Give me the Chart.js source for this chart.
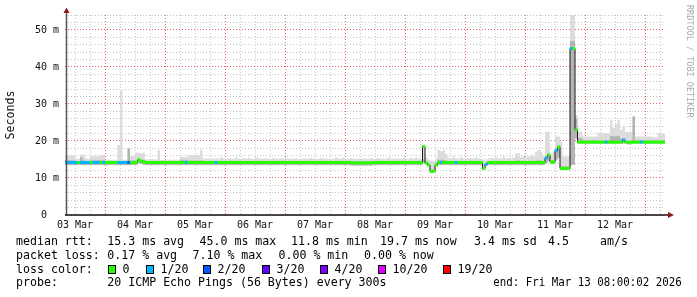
<!DOCTYPE html>
<html>
<head>
<meta charset="utf-8">
<script src="https://cdn.jsdelivr.net/npm/chart.js@4.4.1/dist/chart.umd.min.js"></script>
<style>
  html, body { margin: 0; padding: 0; background: #fff; }
  #wrap { width: 697px; height: 297px; }
</style>
</head>
<body>
<div id="wrap"><canvas id="pingChart" width="697" height="297"></canvas></div>
<script>
// hourly samples, first one is 03 Mar 08:00, one row per day (24 h)
// median round trip time in ms
const medianRtt = [
  14.2,14.2,14.2,14.2,14.2,14.2,14.2,14.2,14.2,14.2,14.2,14.2,14.2,14.2,14.2,14.2,14.2,14.2,14.2,14.2,14.2,14.2,14.2,14.2,
  14.2,14.2,14.2,14.2,14.2,14.9,14.6,14.4,14.2,14.2,14.2,14.2,14.2,14.2,14.2,14.2,14.2,14.2,14.2,14.2,14.2,14.2,14.2,14.2,
  14.2,14.2,14.2,14.2,14.2,14.2,14.2,14.2,14.2,14.2,14.2,14.2,14.2,14.2,14.2,14.2,14.2,14.2,14.2,14.2,14.2,14.2,14.2,14.2,
  14.2,14.2,14.2,14.2,14.2,14.2,14.2,14.2,14.2,14.2,14.2,14.2,14.2,14.2,14.2,14.2,14.2,14.2,14.2,14.2,14.2,14.2,14.2,14.2,
  14.2,14.2,14.2,14.2,14.2,14.2,14.2,14.2,14.2,14.2,14.2,14.2,14.2,14.2,14.2,14.2,14.2,14.2,14.1,14.1,14.1,14.1,14.1,14.1,
  14.1,14.1,14.1,14.2,14.2,14.2,14.2,14.2,14.2,14.2,14.2,14.2,14.2,14.2,14.2,14.2,14.2,14.2,14.2,14.2,14.2,14.2,14.2,18.5,
  14.0,13.5,11.8,11.8,13.5,14.2,14.2,14.2,14.2,14.2,14.2,14.2,14.2,14.2,14.2,14.2,14.2,14.2,14.2,14.2,14.2,14.2,14.2,12.6,
  13.7,14.2,14.2,14.2,14.2,14.2,14.2,14.2,14.2,14.2,14.2,14.2,14.2,14.2,14.2,14.2,14.2,14.2,14.2,14.2,14.2,14.2,14.2,14.2,
  15.4,16.2,14.3,14.3,17.4,18.4,12.6,12.6,12.6,12.6,45.0,45.0,23.0,19.7,19.7,19.7,19.7,19.7,19.7,19.7,19.7,19.7,19.7,19.7,
  19.7,19.7,19.7,19.7,19.7,19.7,19.7,20.3,19.7,19.5,19.7,19.7,19.7,19.7,19.7,19.7,19.7,19.7,19.7,19.7,19.7,19.7,19.7,19.7
];

// lost pings out of 20
const lostPings = [
  1,1,1,1,1,0,1,1,1,1,0,1,1,1,0,1,0,0,0,0,0,1,1,1,
  1,2,0,0,0,0,0,0,0,0,0,0,0,0,0,0,0,0,0,0,0,0,0,0,
  1,0,0,0,0,0,0,0,0,0,0,0,1,0,0,0,0,0,0,0,0,0,0,0,
  0,0,0,0,0,0,0,0,0,0,0,0,0,0,0,0,0,0,0,0,0,0,0,0,
  0,0,0,0,0,0,0,0,0,0,0,0,0,0,0,0,0,0,0,0,0,0,0,0,
  0,0,0,0,0,0,0,0,0,0,0,0,0,0,0,0,0,0,0,0,0,0,0,0,
  0,0,0,0,0,0,1,0,0,0,0,0,1,0,0,0,0,0,0,0,0,0,0,0,
  1,0,0,0,0,0,0,0,0,0,0,0,0,0,0,0,0,0,0,0,0,0,0,0,
  1,0,0,0,1,0,0,0,0,0,1,0,0,0,0,0,0,0,0,0,0,0,0,0,
  1,0,0,0,0,0,0,1,0,0,0,0,0,0,1,0,0,0,0,0,0,0,0,0
];

// slowest ping of the hour (top of the smoke), ms
const smokeHigh = [
  16.2,16.2,16.0,16.2,15.3,15.3,16.3,16.3,15.3,15.3,15.9,15.9,15.9,15.9,16.2,16.2,14.9,14.9,14.9,14.9,14.9,18.9,33.6,14.9,
  14.9,18.2,15.9,15.9,16.8,16.8,16.6,16.8,15.1,15.1,15.1,15.1,15.1,17.6,14.9,14.9,14.9,14.9,14.9,14.9,14.9,14.9,15.7,15.7,
  15.7,16.2,16.2,16.2,16.2,16.2,17.6,15.3,15.3,15.3,15.3,15.3,15.3,15.2,15.6,15.2,15.2,15.5,15.2,15.2,15.6,15.2,15.2,15.4,
  15.2,15.5,15.2,15.2,15.6,15.3,15.2,15.2,15.4,15.2,15.2,15.5,15.2,15.2,15.3,15.2,15.6,15.2,15.2,15.2,15.4,15.2,15.2,15.3,
  15.2,15.2,15.4,15.2,15.2,15.2,15.5,15.2,15.3,15.2,15.2,15.2,15.6,15.2,15.2,15.5,15.2,15.2,15.4,15.2,15.2,15.2,15.3,15.2,
  15.2,15.2,15.5,15.2,15.2,15.4,15.2,15.2,15.2,15.6,15.2,15.2,15.3,15.2,15.2,15.5,15.2,15.2,15.4,15.2,15.6,15.2,15.3,18.8,
  15.6,15.0,14.5,14.5,15.3,17.6,17.2,17.6,16.5,15.5,15.3,15.8,15.3,15.3,15.6,15.3,15.3,15.5,15.3,15.3,15.6,15.3,15.3,15.0,
  15.0,15.3,15.5,15.3,15.6,15.3,15.3,15.8,15.3,15.5,15.3,15.6,16.7,16.7,15.6,16.0,15.6,15.8,16.2,15.8,17.1,17.6,17.1,16.0,
  22.5,22.5,16.5,17.0,21.2,21.2,19.8,15.8,15.8,15.8,58.0,58.0,27.0,22.5,22.5,21.2,21.2,21.2,21.2,21.2,21.2,22.1,22.1,22.1,
  22.1,22.1,25.7,23.5,24.6,25.7,23.0,24.0,22.5,22.5,22.5,26.6,21.2,21.2,21.2,21.2,21.2,21.2,21.2,21.0,21.0,22.0,22.0,22.0
];

// upper edge of the dense part of the smoke, ms
const smokeDense = [
  14.8,14.8,14.8,14.8,14.6,14.6,15.6,14.8,14.6,14.6,14.8,14.8,14.8,14.8,14.8,14.8,14.5,14.5,14.5,14.5,14.5,14.6,14.6,14.5,
  14.5,18.0,14.7,14.7,14.7,15.2,14.9,14.7,14.5,14.5,14.5,14.5,14.5,14.5,14.5,14.5,14.5,14.5,14.5,14.5,14.5,14.5,14.9,14.9,
  14.9,14.7,14.7,14.7,14.7,14.7,14.7,14.5,14.5,14.5,14.5,14.5,14.5,14.5,14.5,14.5,14.5,14.5,14.5,14.5,14.5,14.5,14.5,14.5,
  14.5,14.5,14.5,14.5,14.5,14.5,14.5,14.5,14.5,14.5,14.5,14.5,14.5,14.5,14.5,14.5,14.5,14.5,14.5,14.5,14.5,14.5,14.5,14.5,
  14.5,14.5,14.5,14.5,14.5,14.5,14.5,14.5,14.5,14.5,14.5,14.5,14.5,14.5,14.5,14.5,14.5,14.5,14.4,14.4,14.4,14.4,14.4,14.4,
  14.4,14.4,14.4,14.5,14.5,14.5,14.5,14.5,14.5,14.5,14.5,14.5,14.5,14.5,14.5,14.5,14.5,14.5,14.5,14.5,14.5,14.5,14.5,15.0,
  14.5,14.0,12.3,12.3,14.0,14.9,14.9,14.9,14.7,14.5,14.5,14.5,14.5,14.5,14.5,14.5,14.5,14.5,14.5,14.5,14.5,14.5,14.5,13.0,
  14.1,14.5,14.5,14.5,14.5,14.5,14.5,14.5,14.5,14.5,14.5,14.5,14.7,14.7,14.5,14.5,14.5,14.5,14.5,14.5,14.7,14.7,14.7,14.5,
  15.8,16.6,14.7,14.7,17.7,18.7,13.1,13.1,13.1,13.1,47.0,47.0,26.0,20.8,20.8,20.1,20.1,20.1,20.1,20.1,20.1,20.1,20.1,20.1,
  20.1,20.1,21.3,21.3,21.3,21.3,20.6,20.6,20.1,20.1,20.1,26.6,20.1,20.1,20.1,20.1,20.1,20.1,20.1,20.1,20.1,20.1,20.1,20.1
];

// fastest ping of the hour (bottom of the smoke), ms
const smokeLow = [
  13.5,13.5,13.5,13.5,13.5,13.5,13.5,13.5,13.5,13.5,13.5,13.5,13.5,13.5,13.5,13.5,13.5,13.5,13.5,13.5,13.5,13.5,13.5,13.5,
  13.5,13.5,13.5,13.5,13.5,13.9,13.8,13.6,13.5,13.5,13.5,13.5,13.5,13.5,13.5,13.5,13.5,13.5,13.5,13.5,13.5,13.5,13.5,13.5,
  13.5,13.5,13.5,13.5,13.5,13.5,13.5,13.5,13.5,13.5,13.5,13.5,13.5,13.5,13.5,13.5,13.5,13.5,13.5,13.5,13.5,13.5,13.5,13.5,
  13.5,13.5,13.5,13.5,13.5,13.5,13.5,13.5,13.5,13.5,13.5,13.5,13.5,13.5,13.5,13.5,13.5,13.5,13.5,13.5,13.5,13.5,13.5,13.5,
  13.5,13.5,13.5,13.5,13.5,13.5,13.5,13.5,13.5,13.5,13.5,13.5,13.5,13.5,13.5,13.5,13.5,13.5,13.4,13.4,13.4,13.4,13.4,13.4,
  13.4,13.4,13.4,13.5,13.5,13.5,13.5,13.5,13.5,13.5,13.5,13.5,13.5,13.5,13.5,13.5,13.5,13.5,13.5,13.5,13.5,13.5,13.5,14.0,
  13.7,13.2,11.5,11.5,13.2,13.5,13.5,13.5,13.5,13.5,13.5,13.5,13.5,13.5,13.5,13.5,13.5,13.5,13.5,13.5,13.5,13.5,13.5,12.3,
  13.4,13.5,13.5,13.5,13.5,13.5,13.5,13.5,13.5,13.5,13.5,13.5,13.5,13.5,13.5,13.5,13.5,13.5,13.5,13.5,13.5,13.5,13.5,13.5,
  14.0,14.5,13.8,13.8,14.8,15.5,12.3,12.3,12.3,12.3,13.5,13.5,20.7,19.3,19.3,19.3,19.3,19.3,19.3,19.3,19.3,19.3,19.3,19.3,
  19.3,19.3,19.3,19.3,19.3,19.3,19.3,19.3,19.3,19.3,19.3,19.3,19.3,19.3,19.3,19.3,19.3,19.3,19.3,19.3,19.3,19.3,19.3,19.3
];

// x axis: day labels sit at noon, first noon is 4 h after the start
const dayLabels = ['03 Mar', '04 Mar', '05 Mar', '06 Mar', '07 Mar', '08 Mar', '09 Mar', '10 Mar', '11 Mar', '12 Mar'];
const firstNoon = 4;
const totalHours = 240;
const yMax = 54.05;

// loss legend (smokeping colours)
const lossSteps = [0, 1, 2, 3, 4, 10, 19];
const lossLabels = ['0', '1/20', '2/20', '3/20', '4/20', '10/20', '19/20'];
const lossColors = ['#26ff00', '#00b8ff', '#0059ff', '#5e00ff', '#7e00ff', '#dd00ff', '#ff0000'];

const statsRtt = ['15.3 ms avg', '45.0 ms max', '11.8 ms min', '19.7 ms now', '3.4 ms sd', '4.5', 'am/s'];
const statsLoss = ['0.17 % avg', '7.10 % max', '0.00 % min', '0.00 % now'];
const probeText = '20 ICMP Echo Pings (56 Bytes) every 300s';
const endText = 'end: Fri Mar 13 08:00:02 2026';

const MONO = '"DejaVu Sans Mono", monospace';

function lossColor(n) {
  let c = lossColors[0];
  lossSteps.forEach((s, i) => { if (n >= s) c = lossColors[i]; });
  return c;
}

// stepped series: value i holds from hour i to hour i+1
function stepPoints(values) {
  const pts = values.map((v, i) => ({ x: i, y: v }));
  pts.push({ x: values.length, y: values[values.length - 1] });
  return pts;
}

const markPoints = medianRtt.map((v, i) => ({ x: i + 0.5, y: v }));

// gray 6h grid, red at midnight
const xGrid = [];
for (let h = firstNoon; h < totalHours; h += 6) xGrid.push(h);
const yGrid = [];
for (let v = 0; v <= 54; v += 2) yGrid.push(v);

const minorGrid = 'rgba(150,150,150,0.55)';
const majorGrid = 'rgba(222,48,48,0.75)';

const rrdDecor = {
  id: 'rrdDecor',
  beforeDraw(chart) {
    const ctx = chart.ctx;
    ctx.save();
    ctx.fillStyle = '#fff';
    ctx.fillRect(0, 0, chart.width, chart.height);
    ctx.restore();
  },
  afterDraw(chart) {
    const ctx = chart.ctx;
    const { left, right, top, bottom } = chart.chartArea;
    ctx.save();

    // axes
    ctx.strokeStyle = '#555';
    ctx.lineWidth = 1.5;
    ctx.beginPath();
    ctx.moveTo(left + 1.5, bottom);
    ctx.lineTo(left + 1.5, top - 2);
    ctx.stroke();
    ctx.strokeStyle = '#111';
    ctx.lineWidth = 1.6;
    ctx.beginPath();
    ctx.moveTo(left, bottom);
    ctx.lineTo(right + 3, bottom);
    ctx.stroke();

    // arrows
    ctx.fillStyle = '#8c1a1a';
    ctx.beginPath();
    ctx.moveTo(left - 1.5, top - 2);
    ctx.lineTo(left + 4.5, top - 2);
    ctx.lineTo(left + 1.5, top - 7.5);
    ctx.closePath();
    ctx.fill();
    ctx.beginPath();
    ctx.moveTo(right + 3, bottom - 3);
    ctx.lineTo(right + 3, bottom + 3);
    ctx.lineTo(right + 9, bottom);
    ctx.closePath();
    ctx.fill();

    // watermark
    ctx.save();
    ctx.translate(685, 5);
    ctx.rotate(Math.PI / 2);
    ctx.fillStyle = '#aaa';
    ctx.font = '8.5px ' + MONO;
    ctx.textBaseline = 'bottom';
    ctx.fillText('RRDTOOL / TOBI OETIKER', 0, 0);
    ctx.restore();

    // legend
    ctx.fillStyle = '#000';
    ctx.font = '11.6px ' + MONO;
    ctx.textBaseline = 'alphabetic';
    const base = [244.7, 258.6, 272.5, 286.4];
    ctx.fillText('median rtt:', 16, base[0]);
    [107.3, 199.5, 291, 380, 474, 548, 600].forEach((x, i) => ctx.fillText(statsRtt[i], x, base[0]));
    ctx.fillText('packet loss:', 16, base[1]);
    [107.3, 192.5, 278.5, 364].forEach((x, i) => ctx.fillText(statsLoss[i], x, base[1]));
    ctx.fillText('loss color:', 16, base[2]);
    [108, 146, 203, 262, 320, 378, 443].forEach((x, i) => {
      ctx.fillStyle = '#000';
      ctx.fillRect(x, 265, 8, 9);
      ctx.fillStyle = lossColors[i];
      ctx.fillRect(x + 1, 266, 6, 7);
      ctx.fillStyle = '#000';
      ctx.fillText(lossLabels[i], x + 14.5, base[2]);
    });
    ctx.fillText('probe:', 16, base[3]);
    ctx.fillText(probeText, 107.3, base[3]);
    ctx.fillText(endText, 493.3, base[3], 188.5);
    ctx.restore();
  }
};

new Chart(document.getElementById('pingChart'), {
  type: 'line',
  data: {
    datasets: [
      {
        label: 'min',
        data: stepPoints(smokeLow),
        stepped: true,
        borderWidth: 0,
        pointRadius: 0,
        fill: false,
        order: 5
      },
      {
        label: 'max',
        data: stepPoints(smokeHigh),
        stepped: true,
        borderWidth: 0,
        pointRadius: 0,
        backgroundColor: '#dcdcdc',
        fill: { target: 0 },
        order: 4
      },
      {
        label: 'dense',
        data: stepPoints(smokeDense),
        stepped: true,
        borderWidth: 0,
        pointRadius: 0,
        backgroundColor: '#b4b4b4',
        fill: { target: 0 },
        order: 3
      },
      {
        label: 'median',
        data: stepPoints(medianRtt),
        stepped: true,
        borderColor: '#1a1a1a',
        borderWidth: 1,
        pointRadius: 0,
        fill: false,
        order: 2
      },
      {
        label: 'loss',
        data: markPoints,
        showLine: false,
        pointStyle: 'line',
        pointRadius: 1.4,
        pointBorderWidth: 3,
        pointBorderColor: ctx => lossColor(lostPings[ctx.dataIndex]),
        order: 1
      }
    ]
  },
  options: {
    responsive: false,
    animation: false,
    events: [],
    devicePixelRatio: 1,
    layout: { padding: { left: 0, right: 32, top: 15, bottom: 62 } },
    plugins: {
      legend: { display: false },
      tooltip: { enabled: false }
    },
    scales: {
      x: {
        type: 'linear',
        min: 0,
        max: totalHours,
        afterFit: s => { s.height = 20; },
        afterBuildTicks: s => { s.ticks = xGrid.map(v => ({ value: v })); },
        ticks: {
          autoSkip: false,
          maxRotation: 0,
          padding: 4,
          color: '#111',
          font: { family: MONO, size: 10 },
          callback: v => ((v - firstNoon) % 24 === 0 ? dayLabels[(v - firstNoon) / 24] : '')
        },
        grid: {
          drawTicks: false,
          lineWidth: 1,
          color: ctx => ((ctx.tick.value - firstNoon - 12) % 24 === 0 ? majorGrid : minorGrid)
        },
        border: { display: false, dash: [1, 2] }
      },
      y: {
        min: 0,
        max: yMax,
        afterFit: s => { s.width = 65; },
        afterBuildTicks: s => { s.ticks = yGrid.map(v => ({ value: v })); },
        ticks: {
          autoSkip: false,
          padding: 6,
          color: '#111',
          font: { family: MONO, size: 10 },
          callback: v => (v % 10 === 0 ? (v === 0 ? '0  ' : v + ' m') : '')
        },
        grid: {
          drawTicks: false,
          lineWidth: 1,
          color: ctx => (ctx.tick.value % 10 === 0 ? majorGrid : minorGrid)
        },
        border: { display: false, dash: [1, 2] },
        title: {
          display: true,
          text: 'Seconds',
          color: '#111',
          font: { family: MONO, size: 11.6 },
          padding: { top: 4, bottom: 0 }
        }
      }
    }
  },
  plugins: [rrdDecor]
});
</script>
</body>
</html>
